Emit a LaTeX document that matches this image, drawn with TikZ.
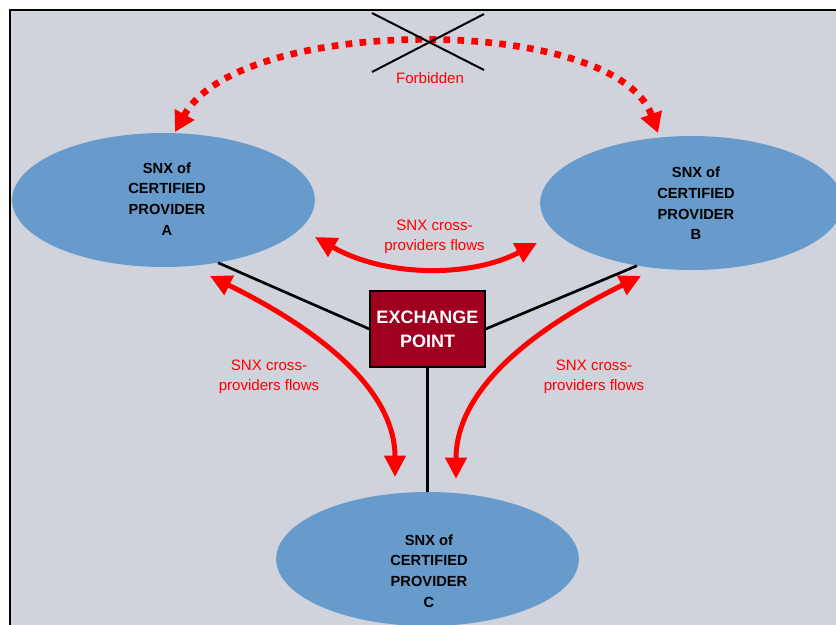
\documentclass[tikz,border=0pt]{standalone}
\usepackage{fontspec}
\setmainfont{Liberation Sans}
\usetikzlibrary{arrows.meta,shapes.geometric}
\definecolor{bgc}{RGB}{208,211,219}
\definecolor{ellc}{RGB}{102,155,204}
\definecolor{exred}{RGB}{160,0,32}
\begin{document}
\begin{tikzpicture}[x=0.75pt,y=-0.75pt,
  prov/.style={ellipse,fill=ellc,draw=none,minimum width=227pt,minimum height=100.5pt,inner sep=0pt},
  provtext/.style={align=center,font=\fontsize{11}{15.5}\selectfont\bfseries,text=black,inner sep=0pt},
  xbox/.style={rectangle,fill=exred,draw=black,line width=1pt,minimum width=86.25pt,minimum height=57pt,inner sep=0pt,align=center,text=white,font=\fontsize{13.5}{18}\selectfont\bfseries},
  conn/.style={draw=black,line width=2pt},
  flow/.style={draw=red,line width=3.75pt,{Triangle[length=16pt,width=15.5pt]}-{Triangle[length=16pt,width=15.5pt]}},
  dotflow/.style={draw=red,line width=5pt,dash pattern=on 5pt off 5.5pt,{Triangle[length=15pt,width=16pt]}-{Triangle[length=15pt,width=16pt]}},
  flowtext/.style={align=center,text=red,font=\fontsize{11.3}{15}\selectfont,inner sep=0pt},
  crossline/.style={draw=black,line width=1.5pt}]
\useasboundingbox (0,0) rectangle (836,625);
\clip (0,0) rectangle (836,625);
\fill[bgc] (10,10) rectangle (845,635);
\draw[line width=1.5pt] (10,640) -- (10,10) -- (845,10);

% providers
\node[prov] (pA) at (163.5,200) {};
\node[prov] (pB) at (691.5,203) {};
\node[prov] (pC) at (427.5,559) {};
\node[provtext] (tA) at (167,199) {SNX of\\CERTIFIED\\PROVIDER\\A};
\node[provtext] (tB) at (696,203.5) {SNX of\\CERTIFIED\\PROVIDER\\B};
\node[provtext] (tC) at (429,571) {SNX of\\CERTIFIED\\PROVIDER\\C};

% exchange point
\node[xbox] (ex) at (427.5,329) {EXCHANGE\\POINT};
\draw[conn] (pA.-49) -- (ex.west);
\draw[conn] (pB.-131) -- (ex.east);
\draw[conn] (ex.south) -- (pC.north);

% flows
\coordinate (mL) at (315,237);
\coordinate (mR) at (537,243);
\draw[flow] (mL) .. controls (385,277) and (470,278) .. (mR);
\node[flowtext] (fM) at (434.5,237) {SNX cross-\\providers flows};

\coordinate (lT) at (210,276);
\coordinate (lB) at (395,477);
\draw[flow] (lT) .. controls (320,330) and (395,390) .. (lB);
\node[flowtext] (fL) at (269,377) {SNX cross-\\providers flows};

\coordinate (rT) at (641,276);
\coordinate (rB) at (456,479);
\draw[flow] (rT) .. controls (531,330) and (456,390) .. (rB);
\node[flowtext] (fR) at (594,377) {SNX cross-\\providers flows};

% forbidden
\coordinate (dL) at (175,132);
\coordinate (dR) at (658,133);
\draw[dotflow] (dL) .. controls (240,14) and (615,14) .. (dR);
\coordinate (c1) at (372,13);
\coordinate (c2) at (484,70);
\coordinate (c3) at (372,72);
\coordinate (c4) at (484,14);
\draw[crossline] (c1) -- (c2);
\draw[crossline] (c3) -- (c4);
\node[flowtext] (fb) at (430,78) {Forbidden};
\end{tikzpicture}
\end{document}
